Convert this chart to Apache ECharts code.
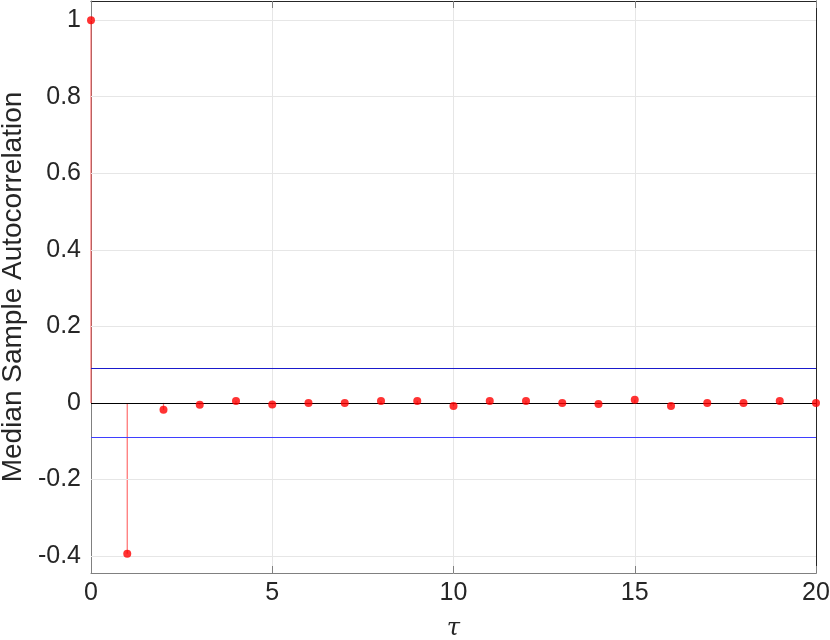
<!DOCTYPE html>
<html><head><meta charset="utf-8">
<script src="https://cdn.jsdelivr.net/npm/echarts@6/dist/echarts.min.js"></script>
<style>html,body{margin:0;padding:0;background:#fff}#c{width:830px;height:640px}</style>
</head><body><div id="c"></div>
<script>
const lags = [0,1,2,3,4,5,6,7,8,9,10,11,12,13,14,15,16,17,18,19,20];
const acf = [1,-0.394,-0.018,-0.005,0.005,-0.004,0,0,0.005,0.005,-0.008,0.005,0.005,0,-0.003,0.008,-0.008,0,0,0.005,0];
const bound = 0.0888;
const yTicks = [-0.4,-0.2,0,0.2,0.4,0.6,0.8,1];
const xTicks = [0,5,10,15,20];
const yMin = -0.4444, yMax = 1.05;

const pts = lags.map((x,i)=>[x,acf[i]]);
const font = 'Liberation Sans, Arial, sans-serif';
const tickCol = '#808080';
function hline(y, color, w){
  return {type:'line',data:[],silent:true,
    markLine:{symbol:'none',silent:true,label:{show:false},animation:false,
      lineStyle:{color:color,width:w,type:'solid',opacity:1},data:[{yAxis:y}]}};
}
const chart = echarts.init(document.getElementById('c'));
chart.setOption({
  animation:false,
  grid:{left:91,right:14,top:1,bottom:67,outerBoundsMode:'none',containLabel:false,show:false},
  xAxis:[
   {type:'value',min:0,max:20,interval:5,position:'bottom',
    name:'τ',nameLocation:'middle',nameGap:44,
    nameTextStyle:{fontFamily:'DejaVu Serif, serif',fontStyle:'italic',fontSize:24,color:'#262626'},
    axisLine:{onZero:false,lineStyle:{color:tickCol,width:1}},
    axisTick:{inside:true,length:7,lineStyle:{color:tickCol}},
    axisLabel:{fontFamily:font,fontSize:25,color:'#262626',margin:8,showMinLabel:true,showMaxLabel:true},
    splitLine:{show:true,lineStyle:{color:'#e6e6e6',width:1}}},
   {type:'value',min:0,max:20,interval:5,position:'top',
    axisLine:{onZero:false,lineStyle:{color:'#262626',width:1}},
    axisTick:{inside:true,length:7,lineStyle:{color:tickCol}},
    axisLabel:{show:false},splitLine:{show:false}}
  ],
  yAxis:[
   {type:'value',min:yMin,max:yMax,position:'left',
    name:'Median Sample Autocorrelation',nameLocation:'middle',nameGap:59,
    nameTextStyle:{fontFamily:font,fontSize:28,color:'#262626'},
    axisLine:{onZero:false,lineStyle:{color:tickCol,width:1}},
    axisTick:{inside:true,length:7,lineStyle:{color:tickCol},customValues:yTicks},
    axisLabel:{fontFamily:font,fontSize:25,color:'#262626',margin:10,customValues:yTicks,
      formatter:v=>String(Math.round(v*10)/10)},
    splitLine:{show:false}},
   {type:'value',min:yMin,max:yMax,position:'right',
    axisLine:{onZero:false,lineStyle:{color:'#262626',width:1}},
    axisTick:{inside:true,length:7,lineStyle:{color:tickCol},customValues:yTicks},
    axisLabel:{show:false},splitLine:{show:false}}
  ],
  series:[
    {type:'line',data:[],silent:true,
      markLine:{symbol:'none',silent:true,label:{show:false},animation:false,
        lineStyle:{color:'#e6e6e6',width:1,type:'solid'},
        data:yTicks.filter(v=>v!==0).map(v=>({yAxis:v}))}},
    hline(0,'#000000',1.2),
    hline(bound,'#1a1acc',1.2),
    hline(-bound,'#3f3fff',1.2),
    {type:'bar',data:pts,barWidth:1.2,itemStyle:{color:'rgba(255,60,60,0.75)'},silent:true},
    {type:'scatter',data:pts,symbol:'circle',symbolSize:8,clip:false,itemStyle:{color:'#ff0000'},silent:true,z:5}
  ]
});
</script></body></html>
